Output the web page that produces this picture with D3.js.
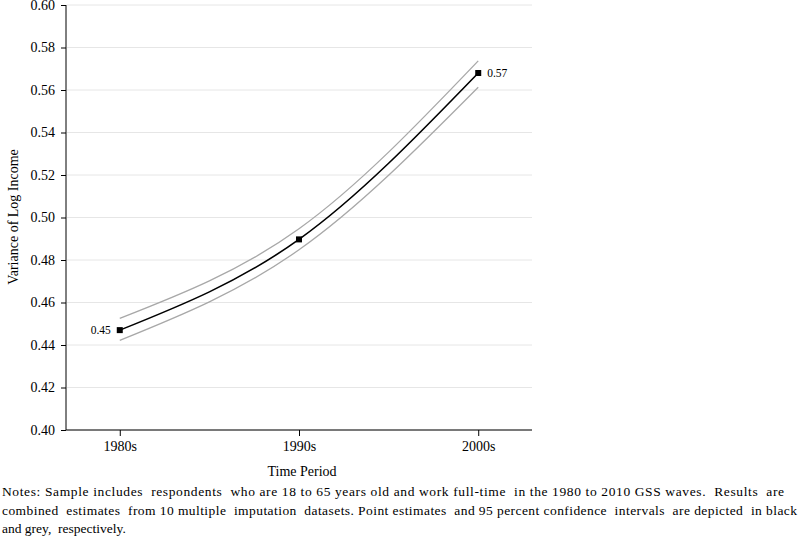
<!DOCTYPE html>
<html><head><meta charset="utf-8">
<script src="https://cdn.jsdelivr.net/npm/d3@7"></script>
<style>body{margin:0;background:#fff}svg{display:block}text{font-family:"Liberation Serif","Times New Roman",serif}</style>
</head><body>
<script>
const categories = ["1980s", "1990s", "2000s"];
const estimates = [0.447, 0.4897, 0.568];
const upperCI = [0.4525, 0.4947, 0.5737];
const lowerCI = [0.4422, 0.4848, 0.5613];
const yTicks = [0.40, 0.42, 0.44, 0.46, 0.48, 0.50, 0.52, 0.54, 0.56, 0.58, 0.60];
const pointLabels = ["0.45", null, "0.57"];
const notes = [
  "Notes: Sample includes  respondents  who are 18 to 65 years old and work full-time  in the 1980 to 2010 GSS waves.  Results  are",
  "combined  estimates  from 10 multiple  imputation  datasets. Point estimates  and 95 percent confidence  intervals  are depicted  in black",
  "and grey,  respectively."
];

const W = 800, H = 538;
const svg = d3.select("body").append("svg").attr("width", W).attr("height", H);
const x = d3.scalePoint().domain(categories).range([66, 532]).padding(0.3);
const y = d3.scaleLinear().domain([0.40, 0.60]).range([430, 5]);

// grid
svg.append("g").selectAll("line").data(yTicks).join("line")
  .attr("x1", 67).attr("x2", 532)
  .attr("y1", d => y(d)).attr("y2", d => y(d))
  .attr("stroke", "#e6e6e6").attr("stroke-width", 1);

// y axis
const yAxis = svg.append("g").attr("transform", "translate(66,0)")
  .call(d3.axisLeft(y).tickValues(yTicks).tickFormat(d3.format(".2f")).tickSize(5).tickPadding(6));
yAxis.attr("font-family", null);
yAxis.select(".domain").attr("stroke", "#000").attr("d", "M0,5V430");
yAxis.selectAll("text").attr("font-size", 14).attr("fill", "#000");

// x axis
const xAxis = svg.append("g").attr("transform", "translate(0,430)")
  .call(d3.axisBottom(x).tickSize(6).tickPadding(5));
xAxis.attr("font-family", null);
xAxis.select(".domain").attr("stroke", "#000").attr("d", "M66,0H532");
xAxis.selectAll("text").attr("font-size", 14).attr("fill", "#000");

const line = d3.line().x((d, i) => x(categories[i])).y(d => y(d)).curve(d3.curveNatural);
svg.append("path").attr("d", line(upperCI)).attr("fill", "none").attr("stroke", "#a8a8a8").attr("stroke-width", 1.3);
svg.append("path").attr("d", line(lowerCI)).attr("fill", "none").attr("stroke", "#a8a8a8").attr("stroke-width", 1.3);
svg.append("path").attr("d", line(estimates)).attr("fill", "none").attr("stroke", "#000").attr("stroke-width", 1.6);

svg.append("g").selectAll("rect").data(estimates).join("rect")
  .attr("x", (d, i) => x(categories[i]) - 3).attr("y", d => y(d) - 3)
  .attr("width", 6).attr("height", 6).attr("fill", "#000");

const labelData = estimates.map((v, i) => ({ v, i, label: pointLabels[i] })).filter(d => d.label !== null);
svg.append("g").selectAll("text").data(labelData).join("text")
  .attr("x", d => d.i === 0 ? x(categories[d.i]) - 9 : x(categories[d.i]) + 9)
  .attr("y", d => y(d.v) + 4)
  .attr("text-anchor", d => d.i === 0 ? "end" : "start")
  .attr("font-size", 11.5)
  .text(d => d.label);

svg.append("text").attr("x", 302).attr("y", 476).attr("text-anchor", "middle").attr("font-size", 14).text("Time Period");
svg.append("text").attr("transform", "translate(18,217) rotate(-90)").attr("text-anchor", "middle").attr("font-size", 14).text("Variance of Log Income");

const notesW = [782, 795, null];
svg.append("g").selectAll("text").data(notes).join("text")
  .attr("x", 2).attr("y", (d, i) => 496 + i * 18.5)
  .attr("font-size", 13.5)
  .attr("xml:space", "preserve")
  .style("white-space", "pre")
  .each(function(d, i) { if (notesW[i]) d3.select(this).attr("textLength", notesW[i]).attr("lengthAdjust", "spacing"); })
  .text(d => d);
</script>
</body></html>
